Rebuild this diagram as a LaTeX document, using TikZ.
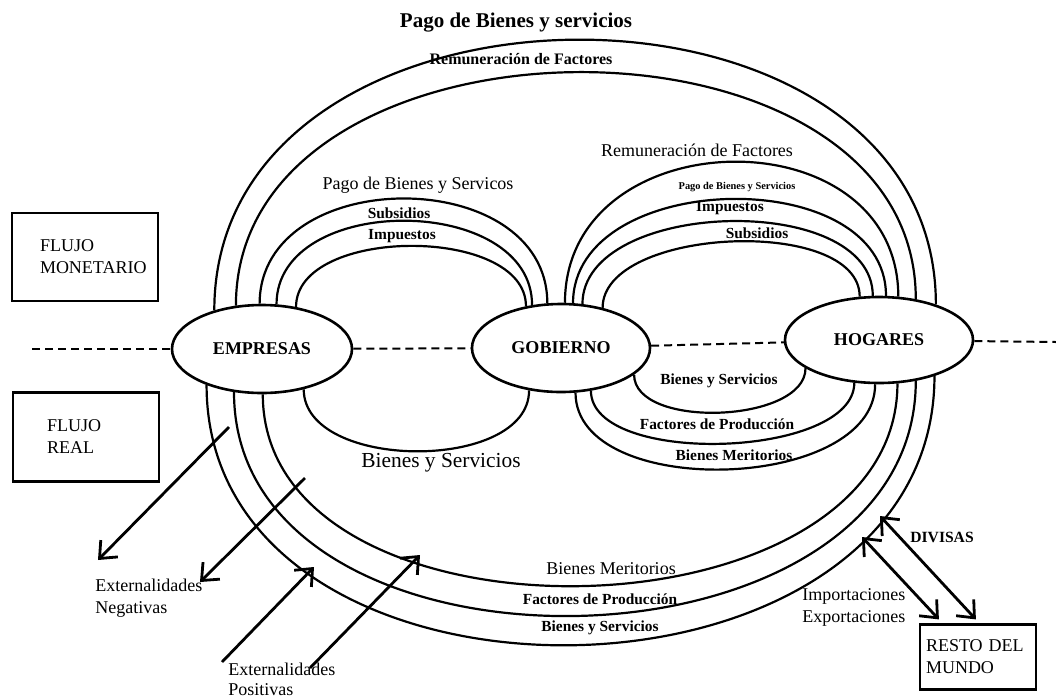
\documentclass[tikz,border=0pt]{standalone}
\usepackage{fontspec}
\setmainfont{Liberation Serif}
\usetikzlibrary{shapes.geometric,arrows.meta}

\tikzset{
    sector/.style={ellipse, draw, line width=1.3pt, inner sep=0pt,
        font=\bfseries\fontsize{9}{10}\selectfont},
    flujo/.style={draw, line width=1.1pt, align=left, font=\fontsize{9}{11}\selectfont},
    arco/.style={line width=1.1pt},
    frontera/.style={line width=1pt, dash pattern=on 4pt off 2.5pt},
    flecha/.style={line width=1.4pt, -{Straight Barb[length=7pt,width=12pt]}},
    dflecha/.style={line width=1.4pt,
        {Straight Barb[length=7pt,width=12pt]}-{Straight Barb[length=7pt,width=12pt]}},
    rotulo/.style={inner sep=0pt, font=\fontsize{9}{11}\selectfont},
    rotulob/.style={inner sep=0pt, font=\bfseries\fontsize{7.7}{9}\selectfont},
}

\begin{document}
\begin{tikzpicture}[x=0.5pt, y=-0.5pt]
    % the frame
    \useasboundingbox (0,0) rectangle (1056,697);

    % the sectors
    \node[sector, minimum width=90pt, minimum height=44pt] (emp) at (262,349) {EMPRESAS};
    \node[sector, minimum width=89pt, minimum height=44pt] (gob) at (561,348) {GOBIERNO};
    \node[sector, minimum width=94pt, minimum height=43pt] (hog) at (879,340) {HOGARES};

    % the boxes
    \node[flujo, text width=45pt, inner xsep=14pt, minimum height=44pt] (mon) at (85,257) {FLUJO\\MONETARIO};
    \node[flujo, text width=39pt, inner xsep=17pt, minimum height=44.5pt] (real) at (86,437) {FLUJO\\REAL};
    \node[flujo, text width=52pt, inner xsep=3pt, minimum height=32.5pt] (rm) at (978,657) {RESTO DEL\\MUNDO};

    % the border between both flows
    \coordinate (izq) at (32,349);
    \coordinate (der) at (1056,342);
    \foreach \p/\q in {izq/emp, emp/gob, gob/hog, hog/der}
        \draw[frontera] (\p) -- (\q);

    % money, above
    \foreach \a/\b/\c in {141/32/357, 121/48/307}
        \draw[arco] (emp.\a) .. controls +(0,-\c) and +(0,-\c) .. (hog.\b);
    \foreach \a/\b/\c in {93/107/140, 72/124/112, 51/130/81}
        \draw[arco] (emp.\a) .. controls +(0,-\c) and +(0,-\c) .. (gob.\b);
    \foreach \a/\b/\c in {85/66/184, 75/81/134, 64/98/105, 44/114/81}
        \draw[arco] (gob.\a) .. controls +(0,-\c) and +(0,-\c) .. (hog.\b);

    % goods, below
    \draw[arco] (emp.316) .. controls +(0,82) and +(0,82) .. (gob.233);
    \foreach \a/\b/\c in {340/201/55, 305/240/76, 288/265/108}
        \draw[arco] (gob.\a) .. controls +(0,\c) and +(0,\c) .. (hog.\b);
    \foreach \a/\b/\c in {271/293/263, 237/312/306, 213/327/353}
        \draw[arco] (emp.\a) .. controls +(0,\c) and +(0,\c) .. (hog.\b);

    % labels above
    \node[rotulo, font=\bfseries\fontsize{10.5}{12}\selectfont] (pbs) at (516,23) {Pago de Bienes y servicios};
    \node[rotulo, font=\bfseries\fontsize{8}{9}\selectfont] (rf) at (521,59) {Remuneración de Factores};
    \node[rotulo] (pbs2) at (418,185) {Pago de Bienes y Servicos};
    \node[rotulob] (sub) at (399,213) {Subsidios};
    \node[rotulob] (imp) at (402,236) {Impuestos};
    \node[rotulo] (rf2) at (697,150) {Remuneración de Factores};
    \node[rotulob, font=\bfseries\fontsize{5.2}{6}\selectfont] (pbs3) at (737,187) {Pago de Bienes y Servicios};
    \node[rotulob] (imp2) at (730,208) {Impuestos};
    \node[rotulob] (sub2) at (757,233) {Subsidios};

    % labels below
    \node[rotulo, font=\fontsize{10.7}{12}\selectfont] (bs) at (441,463) {Bienes y Servicios};
    \node[rotulob] (bs2) at (719,381) {Bienes y Servicios};
    \node[rotulob] (fp) at (717,424) {Factores de Producción};
    \node[rotulob] (bm) at (734,455) {Bienes Meritorios};
    \node[rotulo] (bm2) at (611,569) {Bienes Meritorios};
    \node[rotulob] (fp2) at (600,599) {Factores de Producción};
    \node[rotulob] (bs3) at (600,628) {Bienes y Servicios};

    % externalities
    \node[rotulo, align=left, anchor=west] (neg) at (95,598) {Externalidades\\Negativas};
    \node[rotulo, font=\fontsize{9}{10}\selectfont, align=left, anchor=south west] (pos) at (228,696) {Externalidades\\Positivas};
    \coordinate (n1a) at (229,427); \coordinate (n1b) at (98,560);
    \coordinate (n2a) at (305,478); \coordinate (n2b) at (200,582);
    \coordinate (p1a) at (222,662); \coordinate (p1b) at (314,567);
    \coordinate (p2a) at (310,668); \coordinate (p2b) at (420,555);
    \foreach \p/\q in {n1a/n1b, n2a/n2b, p1a/p1b, p2a/p2b}
        \draw[flecha] (\p) -- (\q);

    % rest of the world
    \node[rotulo, font=\bfseries\fontsize{7.8}{9}\selectfont, anchor=west] (div) at (910,537) {DIVISAS};
    \node[rotulo, align=left, anchor=west] (ie) at (802,607) {Importaciones\\Exportaciones};
    \coordinate (iea) at (862,537);
    \coordinate (dva) at (880,516);
    \draw[dflecha] (iea) -- ([shift={(10pt,2pt)}]rm.north west);
    \draw[dflecha] (dva) -- ([shift={(28.5pt,2pt)}]rm.north west);
\end{tikzpicture}
\end{document}
